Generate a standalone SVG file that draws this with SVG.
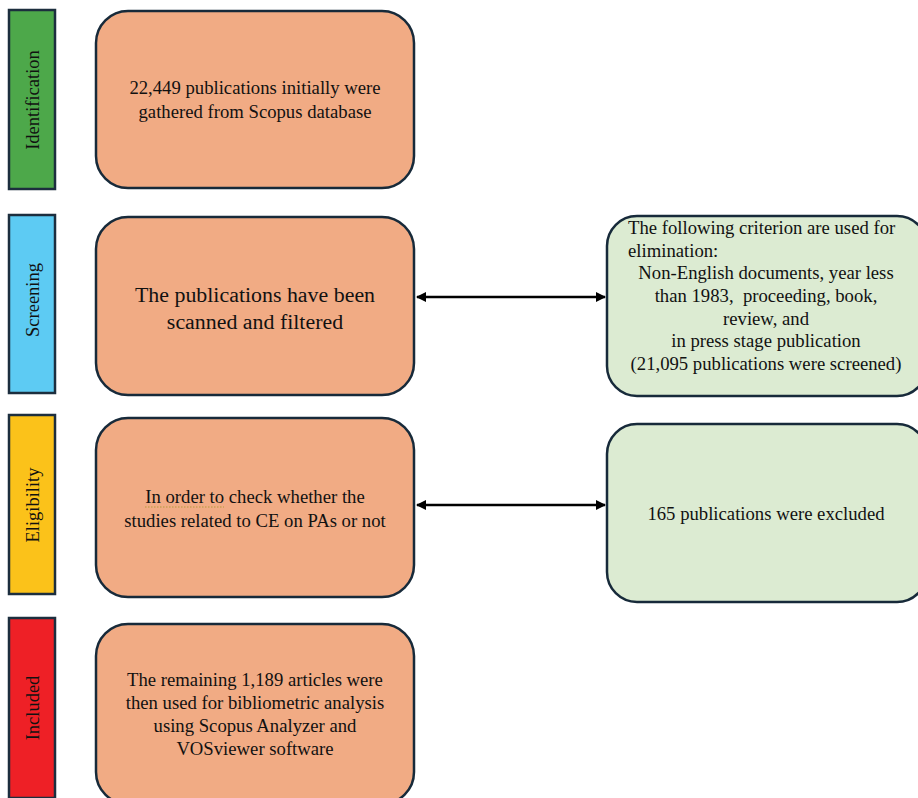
<svg xmlns="http://www.w3.org/2000/svg" width="918" height="798" viewBox="0 0 918 798">
<style>
.bar{stroke:#1c2e3e;stroke-width:2.5}
.box{fill:#F1AB84;stroke:#172a3a;stroke-width:2.5}
.gbox{fill:#DCEBD2;stroke:#172a3a;stroke-width:2.5}
text{font-family:'Liberation Serif','Times New Roman',serif;fill:#111;white-space:pre}
.t{font-size:18.7px;text-anchor:middle}
.s{font-size:18.7px;text-anchor:start}
.lab{font-size:18.5px;text-anchor:middle}
.big{font-size:21.9px;text-anchor:middle}
.conn{stroke:#000;stroke-width:2.5;fill:none}
</style>
<defs>
<marker id="ah" viewBox="0 0 10 10" refX="9" refY="5" markerWidth="4" markerHeight="4" orient="auto-start-reverse">
<path d="M0,0 L10,5 L0,10 z" fill="#000"/>
</marker>
</defs>
<rect width="918" height="798" fill="#fff"/>
<g id="bar-identification"><rect class="bar" x="9" y="10" width="46" height="179" fill="#4DA84A"/><text class="lab" transform="translate(39,100) rotate(-90)">Identification</text></g>
<g id="bar-screening"><rect class="bar" x="9" y="215" width="46" height="178" fill="#5DCBF3"/><text class="lab" transform="translate(39,300) rotate(-90)">Screening</text></g>
<g id="bar-eligibility"><rect class="bar" x="9" y="415" width="46" height="179" fill="#FBC21A"/><text class="lab" transform="translate(39,505) rotate(-90)">Eligibility</text></g>
<g id="bar-included"><rect class="bar" x="9" y="618" width="46" height="180" fill="#EE2026"/><text class="lab" transform="translate(39,708) rotate(-90)">Included</text></g>

<g id="box-identification"><rect class="box" x="96" y="11" width="318" height="177" rx="32"/>
<text class="t" x="255" y="94">22,449 publications initially were</text>
<text class="t" x="255" y="118">gathered from Scopus database</text></g>
<g id="box-screening"><rect class="box" x="96" y="217" width="318" height="178" rx="32"/>
<text class="big" x="255" y="302">The publications have been</text>
<text class="big" x="255" y="329">scanned and filtered</text></g>
<g id="box-eligibility"><rect class="box" x="96" y="418" width="318" height="179" rx="32"/>
<text class="t" x="255" y="503">In order to check whether the</text>
<line x1="145" y1="507" x2="224" y2="507" stroke="#b59a3a" stroke-width="1" stroke-dasharray="1.5,1.5"/>
<text class="t" x="255" y="527">studies related to CE on PAs or not</text></g>
<g id="box-included"><rect class="box" x="96" y="624" width="318" height="180" rx="32"/>
<text class="t" x="255" y="686">The remaining 1,189 articles were</text>
<text class="t" x="255" y="709">then used for bibliometric analysis</text>
<text class="t" x="255" y="732">using Scopus Analyzer and</text>
<text class="t" x="255" y="755">VOSviewer software</text></g>

<g id="box-criteria"><rect class="gbox" x="607" y="216" width="320" height="180" rx="30"/>
<text class="s" x="628" y="234">The following criterion are used for</text>
<text class="s" x="628" y="257">elimination:</text>
<text class="t" x="766" y="279">Non-English documents, year less</text>
<text class="t" x="766" y="302" xml:space="preserve">than 1983,  proceeding, book,</text>
<text class="t" x="766" y="325">review, and</text>
<text class="t" x="766" y="347">in press stage publication</text>
<text class="t" x="766" y="370">(21,095 publications were screened)</text></g>
<g id="box-excluded"><rect class="gbox" x="607" y="424" width="320" height="178" rx="30"/>
<text class="t" x="766" y="520">165 publications were excluded</text></g>

<g id="connectors">
<line class="conn" x1="417" y1="297" x2="605" y2="297" marker-start="url(#ah)" marker-end="url(#ah)"/>
<line class="conn" x1="417" y1="505" x2="605" y2="505" marker-start="url(#ah)" marker-end="url(#ah)"/>
</g>
</svg>
